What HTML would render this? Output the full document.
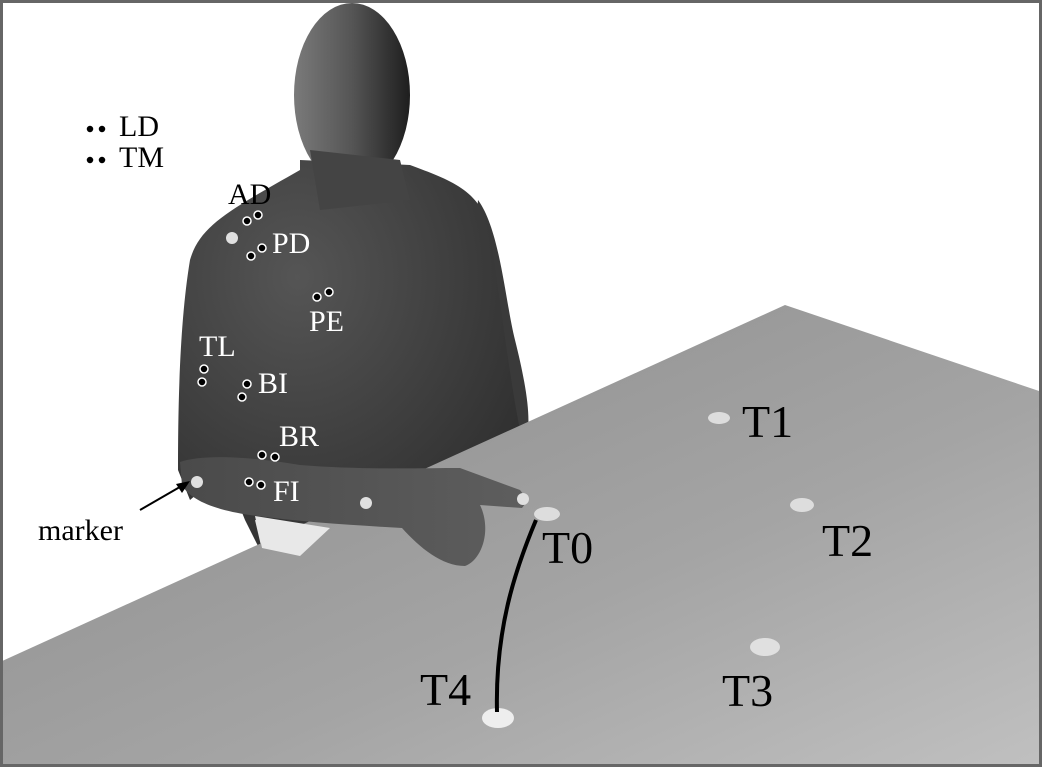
<!DOCTYPE html>
<html><head><meta charset="utf-8"><style>
html,body{margin:0;padding:0;background:#fff;}
svg{display:block;font-family:"Liberation Serif",serif;}
</style></head><body>
<svg width="1042" height="767" viewBox="0 0 1042 767">
<defs>
<linearGradient id="tbl" x1="0" y1="0" x2="1" y2="1">
<stop offset="0" stop-color="#8a8a8a"/><stop offset="0.6" stop-color="#a4a4a4"/><stop offset="1" stop-color="#c0c0c0"/>
</linearGradient>
<radialGradient id="skin" cx="0.35" cy="0.3" r="0.8">
<stop offset="0" stop-color="#555"/><stop offset="1" stop-color="#2e2e2e"/>
</radialGradient>
<linearGradient id="head" x1="0" y1="0" x2="1" y2="0">
<stop offset="0" stop-color="#7a7a7a"/><stop offset="0.5" stop-color="#555"/><stop offset="1" stop-color="#1e1e1e"/>
</linearGradient>
<linearGradient id="arm" x1="0" y1="0" x2="1" y2="0">
<stop offset="0" stop-color="#4a4a4a"/><stop offset="1" stop-color="#5e5e5e"/>
</linearGradient>
</defs>
<rect x="0" y="0" width="1042" height="767" fill="#fff"/>
<g>
<path d="M478,200 C500,230 505,300 515,340 C525,380 530,410 528,430 L500,445 L470,300 Z" fill="#3a3a3a"/>
<path d="M300,160 L410,165 C450,180 480,190 490,230 C500,300 510,380 520,430 L260,550 L245,520 L225,470 L190,500 L178,470 C178,400 180,320 190,260 C200,225 230,210 300,170 Z" fill="url(#skin)"/>
<ellipse cx="352" cy="95" rx="58" ry="92" fill="url(#head)"/>
<path d="M310,150 L400,160 L410,200 L320,210 Z" fill="#444"/>
<path d="M255,520 L330,535 L300,560 L262,550 Z" fill="#e8e8e8"/>
</g>
<polygon points="0,662 785,305 1042,392 1042,767 0,767" fill="url(#tbl)"/>
<g>
<path d="M180,462 C200,455 240,455 300,465 C360,470 420,468 460,468 L520,490 L528,500 L522,508 L480,505 C492,530 482,560 465,566 C442,566 420,548 402,528 C350,525 300,522 250,515 C215,510 190,500 182,485 Z" fill="url(#arm)"/>
<path d="M255,516 L330,528 L300,556 L262,548 Z" fill="#e8e8e8"/>
</g>
<g>
<ellipse cx="547" cy="514" rx="13" ry="7" fill="#ddd"/>
<ellipse cx="719" cy="418" rx="11" ry="6" fill="#ddd"/>
<ellipse cx="802" cy="505" rx="12" ry="7" fill="#ddd"/>
<ellipse cx="765" cy="647" rx="15" ry="9" fill="#e0e0e0"/>
<ellipse cx="498" cy="718" rx="16" ry="10" fill="#eee"/>
</g>
<path d="M536,520 C515,570 495,630 497,712" stroke="#000" stroke-width="4" fill="none"/>
<g font-size="46" fill="#000">
<text x="742" y="437">T1</text><text x="822" y="556">T2</text><text x="722" y="706">T3</text>
<text x="420" y="705">T4</text><text x="542" y="563">T0</text>
</g>
<g fill="#e0e0e0">
<circle cx="232" cy="238" r="6"/><circle cx="197" cy="482" r="6"/><circle cx="366" cy="503" r="6"/><circle cx="523" cy="499" r="6"/>
</g>
<g fill="#000" stroke="#fff" stroke-width="1.5">
<circle cx="247" cy="221" r="4"/><circle cx="258" cy="215" r="4"/>
<circle cx="251" cy="256" r="4"/><circle cx="262" cy="248" r="4"/>
<circle cx="317" cy="297" r="4"/><circle cx="329" cy="292" r="4"/>
<circle cx="204" cy="369" r="4"/><circle cx="202" cy="382" r="4"/>
<circle cx="247" cy="384" r="4"/><circle cx="242" cy="397" r="4"/>
<circle cx="262" cy="455" r="4"/><circle cx="275" cy="457" r="4"/>
<circle cx="249" cy="482" r="4"/><circle cx="261" cy="485" r="4"/>
<circle cx="90" cy="129" r="4"/><circle cx="102" cy="129" r="4"/>
<circle cx="90" cy="160" r="4"/><circle cx="102" cy="160" r="4"/>
</g>
<g font-size="30">
<text x="119" y="136" fill="#000">LD</text>
<text x="119" y="167" fill="#000">TM</text>
<text x="228" y="204" fill="#000">AD</text>
<text x="272" y="253" fill="#fff">PD</text>
<text x="309" y="331" fill="#fff">PE</text>
<text x="199" y="356" fill="#fff">TL</text>
<text x="258" y="393" fill="#fff">BI</text>
<text x="279" y="446" fill="#fff">BR</text>
<text x="273" y="501" fill="#fff">FI</text>
<text x="38" y="540" fill="#000">marker</text>
</g>
<line x1="140" y1="510" x2="185" y2="484" stroke="#000" stroke-width="2"/>
<polygon points="190,481 176,484 182,493" fill="#000"/>
<rect x="1.5" y="1.5" width="1039" height="764" fill="none" stroke="#666" stroke-width="3"/>
</svg>
</body></html>
